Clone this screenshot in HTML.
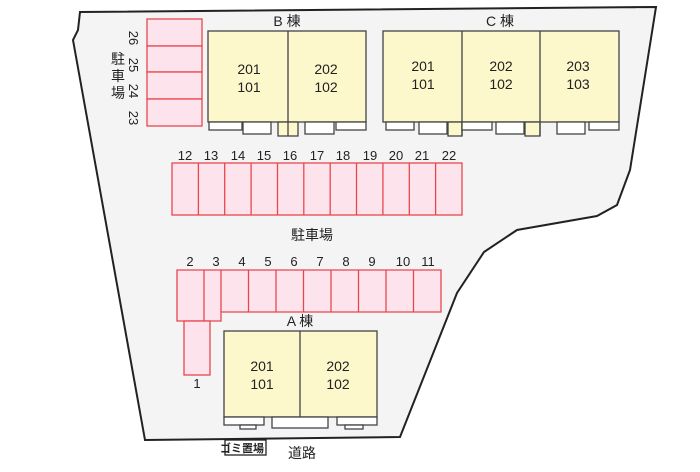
<!DOCTYPE html><html><head><meta charset="utf-8"><style>
body{margin:0;width:700px;height:467px;background:#fff;overflow:hidden}
text{font-family:"Liberation Sans","Noto Sans CJK JP",sans-serif;fill:#222}
</style></head><body>
<svg width="700" height="467" viewBox="0 0 700 467" xmlns="http://www.w3.org/2000/svg">
<polygon points="80,12 656,7 630,170 617,205 597,216 517,230 484,252 457,293 400,437 145,440 73,40 78,30" fill="#f4f4f4" stroke="#222" stroke-width="2"/>
<g fill="#fde4ec" stroke="#e8464f" stroke-width="1.3">
<rect x="147" y="19" width="55" height="27"/><rect x="147" y="46" width="55" height="26"/><rect x="147" y="72" width="55" height="27"/><rect x="147" y="99" width="55" height="27"/>
</g>
<g font-size="13" text-anchor="middle">
<text transform="translate(129,38) rotate(90)">26</text>
<text transform="translate(129,65) rotate(90)">25</text>
<text transform="translate(129,91) rotate(90)">24</text>
<text transform="translate(129,118) rotate(90)">23</text>
<text x="118" y="64" font-size="14">駐</text><text x="118" y="81" font-size="14">車</text><text x="118" y="98" font-size="14">場</text>
</g>
<!-- B building -->
<g stroke="#444" stroke-width="1.3">
<rect x="208" y="31" width="158" height="91" fill="#fdf7cc"/>
<rect x="278" y="122" width="20" height="14" fill="#fdf7cc"/>
<line x1="288" y1="31" x2="288" y2="136"/>
<g fill="#fff"><rect x="209" y="122" width="33" height="8"/><rect x="243" y="122" width="28" height="12"/><rect x="305" y="122" width="29" height="12"/><rect x="336" y="122" width="30" height="8"/></g>
<rect x="383" y="31" width="236" height="91" fill="#fdf7cc"/>
<rect x="448" y="122" width="14" height="14" fill="#fdf7cc"/><rect x="525" y="122" width="15" height="14" fill="#fdf7cc"/>
<line x1="462" y1="31" x2="462" y2="136"/><line x1="540" y1="31" x2="540" y2="136"/>
<g fill="#fff"><rect x="386" y="122" width="28" height="8"/><rect x="419" y="122" width="28" height="12"/><rect x="462" y="122" width="30" height="8"/><rect x="496" y="122" width="28" height="12"/><rect x="557" y="122" width="28" height="12"/><rect x="589" y="122" width="30" height="8"/></g>
<rect x="224" y="331" width="153" height="86" fill="#fdf7cc"/>
<line x1="300" y1="331" x2="300" y2="417"/>
<g fill="#fff"><rect x="224" y="417" width="40" height="8"/><rect x="240" y="425" width="16" height="4"/><rect x="272" y="417" width="56" height="11"/><rect x="337" y="417" width="40" height="8"/><rect x="345" y="425" width="18" height="4"/></g>
</g>
<g font-size="14" text-anchor="middle">
<text x="287" y="26">B 棟</text><text x="500" y="26">C 棟</text><text x="300" y="326">A 棟</text>
<text x="249" y="74">201</text><text x="249" y="92">101</text>
<text x="326" y="74">202</text><text x="326" y="92">102</text>
<text x="423" y="71">201</text><text x="423" y="89">101</text>
<text x="501" y="71">202</text><text x="501" y="89">102</text>
<text x="578" y="71">203</text><text x="578" y="89">103</text>
<text x="262" y="371">201</text><text x="262" y="389">101</text>
<text x="338" y="371">202</text><text x="338" y="389">102</text>
<text x="312" y="240">駐車場</text>
<text x="302" y="458">道路</text>
</g>
<!-- parking 12-22 -->
<g fill="#fde4ec" stroke="#e8464f" stroke-width="1.3">
<rect x="172" y="163" width="290" height="52"/>
<path d="M198.4,163v52M224.7,163v52M251.1,163v52M277.5,163v52M303.8,163v52M330.2,163v52M356.5,163v52M382.9,163v52M409.3,163v52M435.6,163v52"/>
<path d="M177,270H441V312H221V321H177Z"/>
<path d="M204,270v51M221,270v42M248.5,270v42M276,270v42M303.5,270v42M331,270v42M358.5,270v42M386,270v42M413.5,270v42"/>
<rect x="184" y="321" width="26" height="54"/>
</g>
<g font-size="13" text-anchor="middle">
<text x="185" y="160">12</text><text x="211" y="160">13</text><text x="238" y="160">14</text><text x="264" y="160">15</text><text x="290" y="160">16</text><text x="317" y="160">17</text><text x="343" y="160">18</text><text x="370" y="160">19</text><text x="396" y="160">20</text><text x="422" y="160">21</text><text x="449" y="160">22</text>
<text x="190" y="266">2</text><text x="216" y="266">3</text><text x="242" y="266">4</text><text x="268" y="266">5</text><text x="294" y="266">6</text><text x="320" y="266">7</text><text x="346" y="266">8</text><text x="372" y="266">9</text><text x="403" y="266">10</text><text x="428" y="266">11</text>
<text x="197" y="388">1</text>
</g>
<rect x="225" y="440" width="41" height="15" fill="#fff" stroke="#222" stroke-width="1.3"/>
<text x="242" y="452" font-size="11" font-weight="bold" text-anchor="middle">ゴミ置場</text>
</svg>
</body></html>
